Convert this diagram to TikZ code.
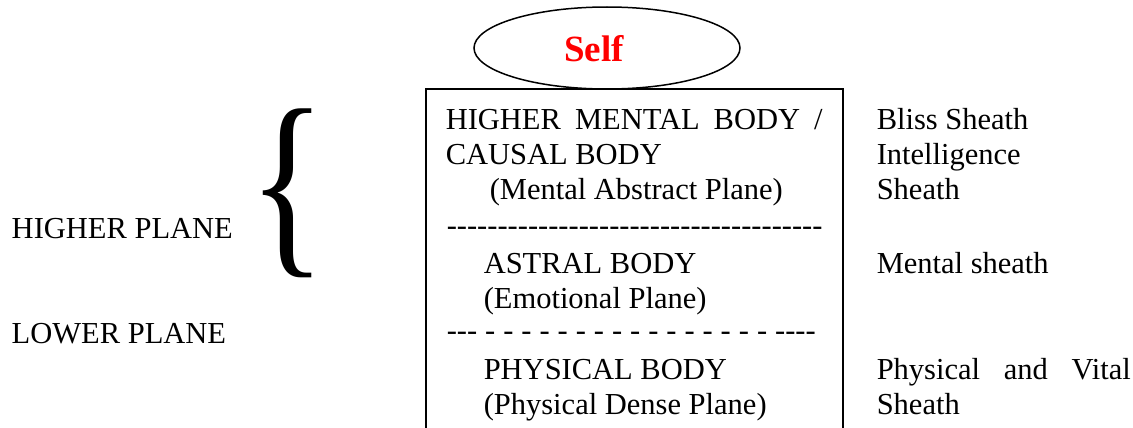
\documentclass[tikz,border=0pt]{standalone}
\usepackage{fontspec}
\setmainfont{Liberation Serif}[Ligatures=TeXOff]
\usepackage{xcolor}
\usetikzlibrary{shapes.geometric, positioning}

\begin{document}
\begin{tikzpicture}[x=1pt, y=-1pt, line width=1.5pt,
    every node/.style={inner sep=0pt, font=\fontsize{30.5}{35}\selectfont},
    txt/.style={anchor=base west}]
    \useasboundingbox (0,0) rectangle (1133,428);

    % Self on top of the box
    \node (selfring) [draw, ellipse, minimum width=266pt, minimum height=82pt] at (607,48) {};
    \node (self) [anchor=base, text=red, font=\fontsize{37}{40}\selectfont\bfseries] at (594,62) {Self};

    % Body box (open at the bottom)
    \draw (426,428) -- (426,89) -- (843,89) -- (843,428);

    % Bodies inside the box
    \node (hmb) [txt] at (445,129) {\makebox[377pt][s]{HIGHER MENTAL BODY /}};
    \node (cb)  [txt] at (445,164) {CAUSAL BODY};
    \node (map) [txt] at (489,199) {(Mental Abstract Plane)};
    \node (sep1) [txt] at (446,235) {-------------------------------------};
    \node (ab)  [txt] at (483,273) {ASTRAL BODY};
    \node (ep)  [txt] at (483,308) {(Emotional Plane)};
    \node (sep2) [txt] at (446,340) {\makebox[369pt][s]{--- - - - - - - - - - - - - - - - - ----}};
    \node (pb)  [txt] at (483,379) {PHYSICAL BODY};
    \node (pdp) [txt] at (483,414) {(Physical Dense Plane)};

    % Planes on the left
    \node (hp) [txt] at (11,238) {HIGHER PLANE};
    \node (lp) [txt] at (11,343) {LOWER PLANE};
    \node (brace) at (287.5,193) {\resizebox*{78pt}{169pt}{\{}};

    % Sheaths on the right
    \node (bs)  [txt] at (876,129) {Bliss Sheath};
    \node (is)  [txt] at (876,164) {Intelligence};
    \node (is2) [txt] at (876,199) {Sheath};
    \node (ms)  [txt] at (876,273) {Mental sheath};
    \node (pv)  [txt] at (876,379) {\makebox[254pt][s]{Physical and Vital}};
    \node (pv2) [txt] at (876,414) {Sheath};
\end{tikzpicture}
\end{document}
